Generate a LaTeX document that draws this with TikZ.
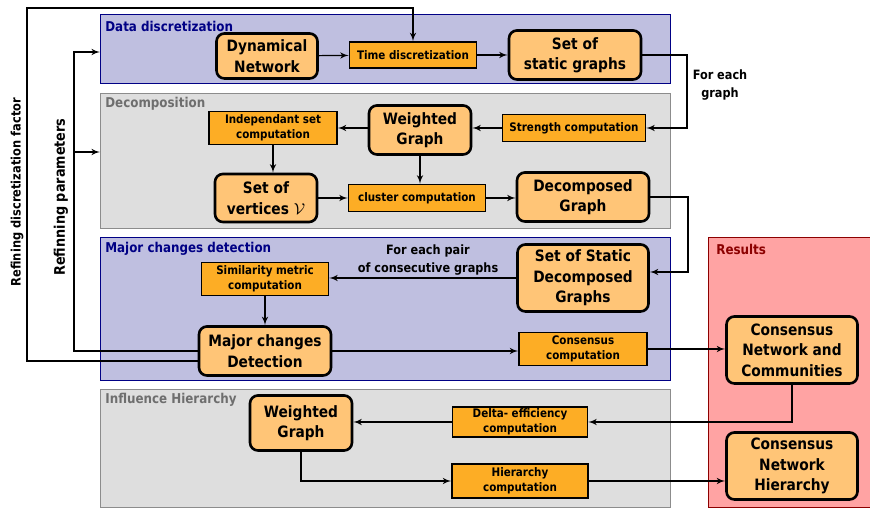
\documentclass[tikz,border=0pt]{standalone}
\usepackage{fontspec}
\setmainfont{DejaVu Sans}[FakeStretch=0.88]
\usepackage{xcolor}
\usepackage{tikz}
\usetikzlibrary{arrows,calc}

\definecolor{blockfill}{HTML}{FFC577}
\definecolor{stepfill}{HTML}{FDAD25}
\definecolor{bluepanel}{HTML}{BFBFE0}
\definecolor{bluedraw}{HTML}{000085}
\definecolor{greypanel}{HTML}{DEDEDE}
\definecolor{greydraw}{HTML}{8C8C8C}
\definecolor{greytext}{HTML}{6E6E6E}
\definecolor{respanel}{HTML}{FFA3A3}
\definecolor{resdraw}{HTML}{8C0000}

\tikzset{
  panel/.style={rectangle, line width=0.85pt, anchor=north west, inner sep=0pt},
  block/.style={rectangle, rounded corners=4.5pt, line width=1.5pt, draw, fill=blockfill, align=center, inner sep=0pt, font=\bfseries\fontsize{8.9}{11.6}\selectfont},
  compute/.style={rectangle, line width=0.85pt, draw, fill=stepfill, align=center, inner sep=0pt, font=\bfseries\fontsize{6.7}{8.5}\selectfont},
  title/.style={anchor=west, inner sep=0pt, font=\bfseries\fontsize{7.7}{9}\selectfont},
  note/.style={align=center, inner sep=0pt, font=\bfseries\fontsize{7.3}{10}\selectfont},
  link/.style={-latex', line width=0.7pt}
}

\begin{document}
\begin{tikzpicture}[x=0.02cm, y=-0.02cm]
\useasboundingbox (0,0) rectangle (870,509);

% panels
\node[panel, draw=bluedraw, fill=bluepanel, minimum width=11.4cm, minimum height=1.38cm] (ddpanel) at (100,14) {};
\node[panel, draw=greydraw, fill=greypanel, minimum width=11.4cm, minimum height=2.7cm] (decpanel) at (100,93) {};
\node[panel, draw=bluedraw, fill=bluepanel, minimum width=11.4cm, minimum height=2.86cm] (mcdpanel) at (100,237) {};
\node[panel, draw=greydraw, fill=greypanel, minimum width=11.4cm, minimum height=2.36cm] (ihpanel) at (100,389) {};
\node[panel, draw=resdraw, fill=respanel, minimum width=3.24cm, minimum height=5.4cm] (respanel) at (708,237) {};

\node[title, text=bluedraw] (ddtitle) at (105,26) {Data discretization};
\node[title, text=greytext] (dectitle) at (105,104) {Decomposition};
\node[title, text=bluedraw] (mcdtitle) at (105,249) {Major changes detection};
\node[title, text=greytext] (ihtitle) at (105,400) {Influence Hierarchy};
\node[title, text=resdraw] (restitle) at (716,249) {Results};

% data discretization
\node[block, minimum width=2.02cm, minimum height=0.9cm] (dynnet) at (267,56) {Dynamical\\Network};
\node[compute, minimum width=2.54cm, minimum height=0.52cm] (timedisc) at (413,55) {Time discretization};
\node[block, minimum width=2.64cm, minimum height=0.98cm] (staticg) at (575,55) {Set of\\static graphs};

% decomposition
\node[compute, minimum width=2.86cm, minimum height=0.54cm] (strength) at (574,128) {Strength computation};
\node[block, minimum width=2.04cm, minimum height=0.98cm] (wgraph) at (420,130) {Weighted\\Graph};
\node[compute, minimum width=2.56cm, minimum height=0.66cm] (indset) at (273,128) {Independant set\\computation};
\node[block, minimum width=2.04cm, minimum height=0.96cm] (vertices) at (266,198) {Set of\\vertices $\mathcal{V}$};
\node[compute, minimum width=2.74cm, minimum height=0.54cm] (cluster) at (417,198) {cluster computation};
\node[block, minimum width=2.64cm, minimum height=0.98cm] (decomp) at (583,197) {Decomposed\\Graph};

% major changes
\node[block, minimum width=2.62cm, minimum height=1.34cm] (staticdec) at (583,278) {Set of Static\\Decomposed\\Graphs};
\node[compute, minimum width=2.54cm, minimum height=0.66cm] (similar) at (265,279) {Similarity metric\\computation};
\node[block, minimum width=2.64cm, minimum height=0.98cm] (major) at (265,351) {Major changes\\Detection};
\node[compute, minimum width=2.56cm, minimum height=0.66cm] (consensus) at (583,349) {Consensus\\computation};

% results
\node[block, minimum width=2.62cm, minimum height=1.34cm] (cnc) at (792,350) {Consensus\\Network and\\Communities};
\node[block, minimum width=2.62cm, minimum height=1.34cm] (cnh) at (792,466) {Consensus\\Network\\Hierarchy};

% influence hierarchy
\node[compute, minimum width=2.7cm, minimum height=0.6cm] (delta) at (520,422) {Delta- efficiency\\computation};
\node[block, minimum width=2.04cm, minimum height=1.1cm] (wgraphb) at (301,423) {Weighted\\Graph};
\node[compute, minimum width=2.72cm, minimum height=0.68cm] (hier) at (520,481) {Hierarchy\\computation};

% labels
\node[note] (graphnote) at (720,85) {For each\\graph};
\node[note] (pairnote) at (428,260) {For each pair\\of consecutive graphs};
\node[note, rotate=90, font=\bfseries\fontsize{7.4}{8.8}\selectfont] (factorlbl) at (17,192) {Refining discretization factor};
\node[note, rotate=90, font=\bfseries\fontsize{8.3}{9.8}\selectfont] (paramlbl) at (61,197) {Refinning parameters};

\coordinate (graphbend) at (687,128);
\coordinate (decbend) at (688,272);
\coordinate (outertop) at (27,8);
\coordinate (innertop) at (74,52);
\coordinate (innermid) at (74,152);

\draw[link] (dynnet) -- (timedisc);
\draw[link] (timedisc) -- (staticg);
\draw[link] (staticg.east) -| (graphbend) -- (strength.east);
\draw[link] (strength.west) -- (strength.west -| wgraph.east);
\draw[link] (indset.east -| wgraph.west) -- (indset.east);
\draw[link] (indset.south) -- (indset.south |- vertices.north);
\draw[link] (wgraph) -- (wgraph |- cluster.north);
\draw[link] (vertices) -- (cluster);
\draw[link] (cluster.east) -- (cluster.east -| decomp.west);
\draw[link] (decomp.east) -| (decbend) -- (decbend -| staticdec.east);
\draw[link] (staticdec.west) -- (staticdec.west -| similar.east);
\draw[link] (similar) -- (similar |- major.north);
\draw[link] (major.east) -- (major.east -| consensus.west);
\draw[link] (consensus.east) -- (consensus.east -| cnc.west);
\draw[link] (cnc.south) |- (delta.east);
\draw[link] (delta.west) -- (delta.west -| wgraphb.east);
\draw[link] (wgraphb.south) |- (hier.west);
\draw[link] (hier.east) -- (hier.east -| cnh.west);

% feedback
\draw[link] ($(major.west)+(0,10)$) -| (outertop) -| (timedisc.north);
\draw[link] (major.west) -| (innertop) -- (innertop -| ddpanel.west);
\draw[link] (innermid) -- (innermid -| decpanel.west);

\end{tikzpicture}
\end{document}
